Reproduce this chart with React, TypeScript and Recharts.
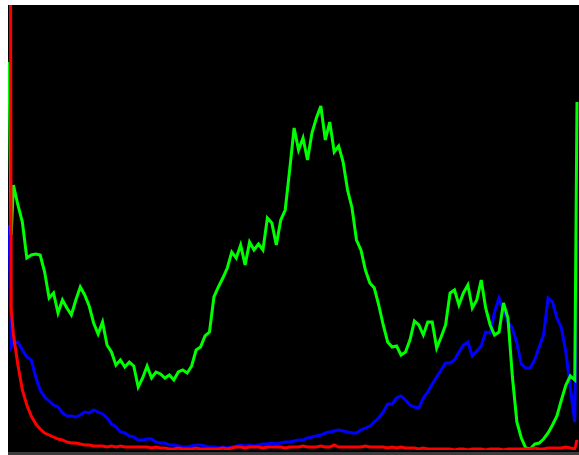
import { LineChart, Line, XAxis, YAxis } from 'recharts';

// histogram bins (0..255), every second bin plus both ends
const bins = [
    0, 1, 2, 4, 6, 8, 10, 12, 14, 16,
    18, 20, 22, 24, 26, 28, 30, 32, 34, 36,
    38, 40, 42, 44, 46, 48, 50, 52, 54, 56,
    58, 60, 62, 64, 66, 68, 70, 72, 74, 76,
    78, 80, 82, 84, 86, 88, 90, 92, 94, 96,
    98, 100, 102, 104, 106, 108, 110, 112, 114, 116,
    118, 120, 122, 124, 126, 128, 130, 132, 134, 136,
    138, 140, 142, 144, 146, 148, 150, 152, 154, 156,
    158, 160, 162, 164, 166, 168, 170, 172, 174, 176,
    178, 180, 182, 184, 186, 188, 190, 192, 194, 196,
    198, 200, 202, 204, 206, 208, 210, 212, 214, 216,
    218, 220, 222, 224, 226, 228, 230, 232, 234, 236,
    238, 240, 242, 244, 246, 248, 250, 252, 254, 255,
];

const green = [
    388, 215, 265, 245, 228, 192, 195, 196, 195, 178,
    152, 157, 137, 150, 142, 135, 150, 163, 155, 144,
    127, 116, 128, 105, 98, 85, 90, 83, 88, 84,
    63, 72, 84, 72, 78, 76, 72, 75, 70, 78,
    80, 77, 84, 100, 103, 114, 118, 153, 163, 172,
    182, 198, 192, 205, 185, 208, 200, 206, 200, 232,
    227, 205, 230, 240, 280, 322, 300, 312, 290, 317,
    332, 344, 310, 328, 298, 304, 288, 260, 242, 210,
    200, 180, 167, 162, 145, 125, 108, 103, 104, 95,
    98, 110, 129, 125, 115, 128, 128, 102, 113, 125,
    157, 160, 145, 157, 165, 142, 150, 170, 142, 125,
    115, 118, 147, 132, 73, 28, 12, 2, 1, 6,
    7, 11, 17, 25, 34, 50, 65, 74, 70, 348,
];

const blue = [
    225, 103, 107, 108, 100, 93, 90, 73, 60, 53,
    49, 45, 43, 37, 34, 34, 33, 35, 38, 37,
    40, 38, 36, 32, 26, 23, 18, 17, 14, 13,
    10, 10, 11, 11, 8, 7, 7, 5, 5, 4,
    3, 3, 4, 5, 5, 4, 3, 3, 2, 3,
    2, 3, 4, 5, 4, 5, 4, 5, 6, 6,
    7, 6, 7, 8, 8, 9, 10, 10, 12, 13,
    14, 15, 17, 18, 19, 20, 19, 18, 17, 17,
    20, 22, 24, 28, 32, 38, 46, 46, 52, 54,
    50, 45, 43, 42, 52, 58, 66, 73, 80, 87,
    87, 90, 98, 105, 108, 94, 99, 104, 118, 117,
    138, 152, 140, 128, 122, 107, 86, 82, 82, 90,
    103, 115, 152, 148, 132, 122, 98, 62, 28, 210,
];

const red = [
    1200, 140, 115, 85, 60, 45, 34, 26, 21, 17,
    15, 13, 11, 10, 8, 7, 7, 6, 5, 5,
    4, 4, 4, 3, 4, 3, 4, 3, 3, 3,
    3, 3, 3, 2, 3, 2, 2, 1, 1, 2,
    1, 1, 1, 2, 1, 1, 1, 1, 1, 2,
    1, 2, 3, 3, 2, 3, 3, 3, 2, 3,
    3, 3, 3, 2, 3, 3, 3, 4, 3, 3,
    3, 4, 3, 3, 5, 3, 3, 3, 3, 3,
    3, 4, 3, 3, 3, 3, 2, 3, 2, 3,
    2, 2, 2, 1, 2, 1, 1, 1, 1, 1,
    1, 0, 1, 1, 0, 1, 1, 1, 0, 1,
    1, 1, 0, 1, 1, 1, 1, 1, 1, 2,
    1, 1, 2, 2, 2, 2, 3, 2, 1, 10,
];

const data = bins.map((bin, i) => ({ bin, b: blue[i], g: green[i], r: red[i] }));

export default function App() {
    return (
        <div style={{ position: 'absolute', left: 8, top: 5, width: 571, height: 450 }}>
            <div style={{ background: '#000', width: 571, height: 447 }}>
                <LineChart width={571} height={447} data={data} margin={{ top: 0, right: 2, bottom: 2, left: 1 }}>
                    <XAxis dataKey="bin" type="number" domain={[0, 255]} hide />
                    <YAxis type="number" domain={[0, 445]} allowDataOverflow hide />
                    <Line dataKey="b" stroke="#0000ff" strokeWidth={3} dot={false} isAnimationActive={false} />
                    <Line dataKey="g" stroke="#00ff00" strokeWidth={3} dot={false} isAnimationActive={false} />
                    <Line dataKey="r" stroke="#ff0000" strokeWidth={3} dot={false} isAnimationActive={false} />
                </LineChart>
            </div>
            <div style={{ background: '#3c3c3c', width: 571, height: 3 }} />
        </div>
    );
}
